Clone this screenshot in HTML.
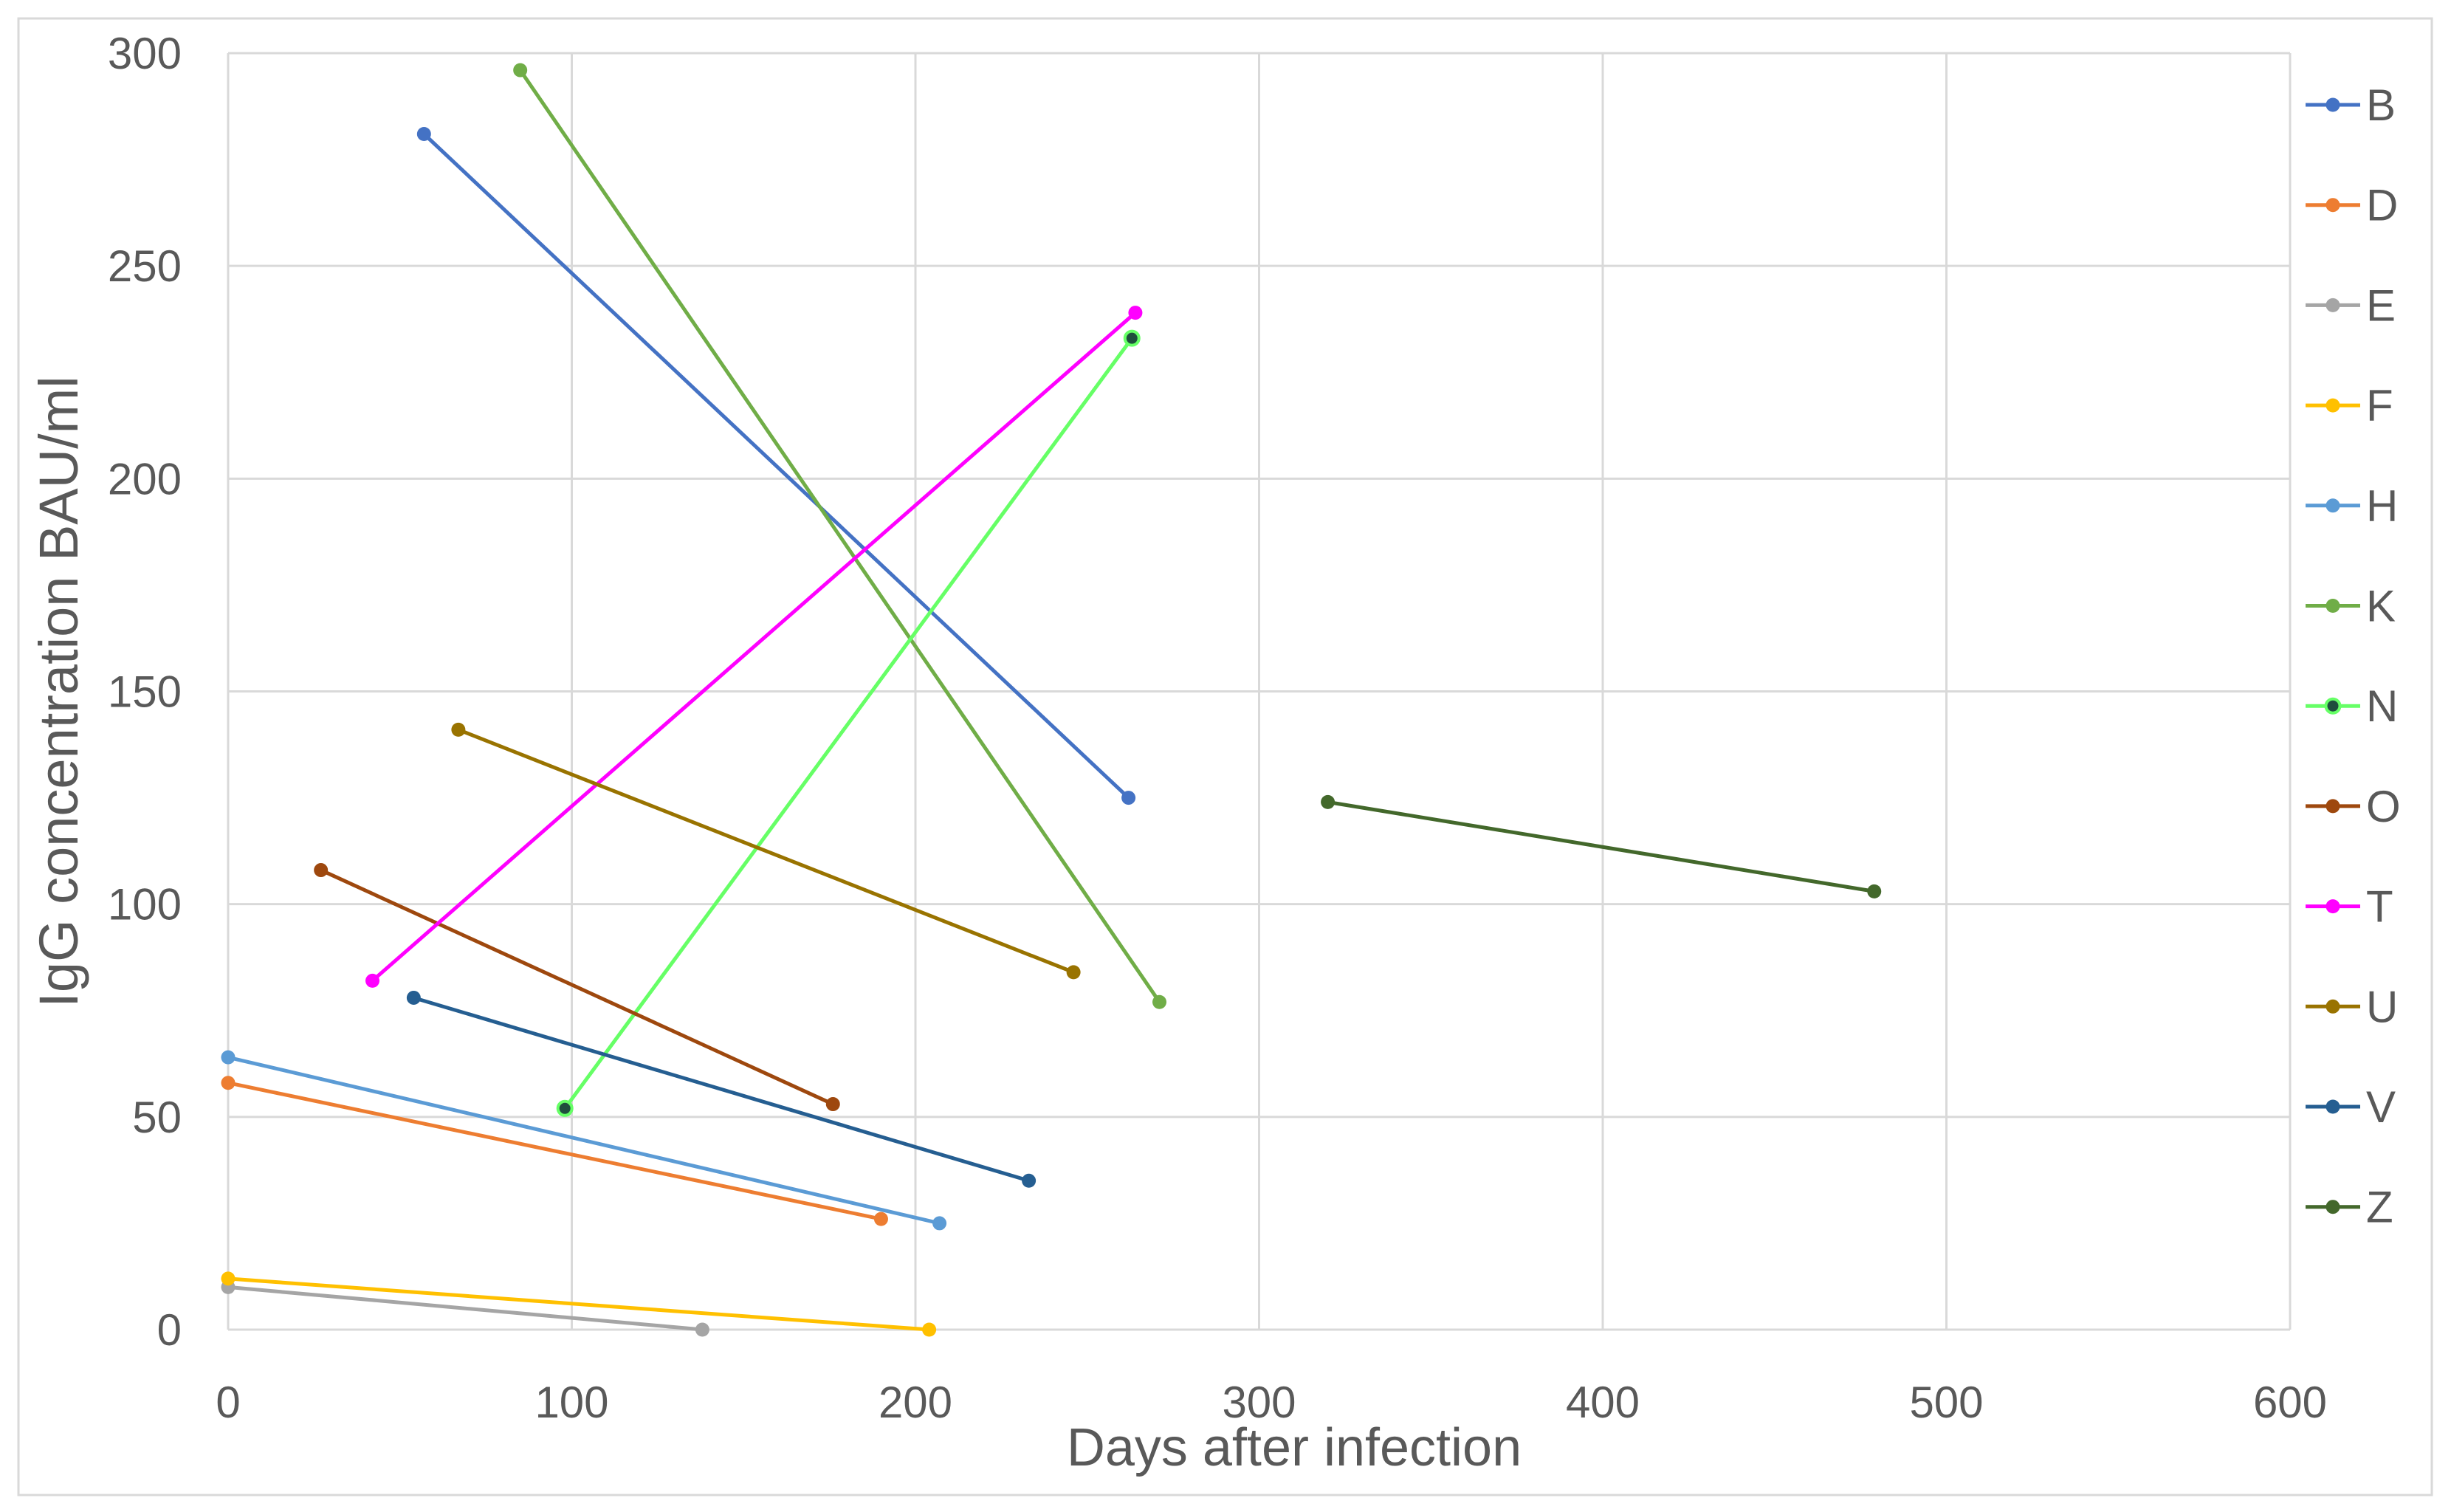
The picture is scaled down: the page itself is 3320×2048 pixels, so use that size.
<!DOCTYPE html>
<html><head><meta charset="utf-8"><style>
body{margin:0;background:#fff}
svg{display:block;font-family:"Liberation Sans",sans-serif}
</style></head><body>
<svg id="chart" width="3320" height="2048" viewBox="0 0 3320 2048" xmlns="http://www.w3.org/2000/svg">
<rect x="25" y="25" width="3269" height="2000" fill="#fff" stroke="#d9d9d9" stroke-width="3"/>
<g id="grid"></g><g id="series"></g><g id="legend"></g>
<text x="1753" y="1985" font-size="72" fill="#595959" text-anchor="middle">Days after infection</text>
<text transform="translate(105,937) rotate(-90)" font-size="74" fill="#595959" text-anchor="middle">IgG concentration BAU/ml</text>
</svg>
<script>
const names=["B","D","E","F","H","K","N","O","T","U","V","Z"];
const colors=["#4472C4","#ED7D31","#A5A5A5","#FFC000","#5B9BD5","#70AD47","#66FF66","#9E480E","#FF00FF","#997300","#255E91","#43682B"];
const startDays=[57,0,0,0,0,85,98,27,42,67,54,320];
const startVals=[281,58,10,12,64,296,52,108,82,141,78,124];
const endDays=[262,190,138,204,207,271,263,176,264,246,233,479];
const endVals=[125,26,0,0,25,77,233,53,239,84,35,103];
const xTicks=[0,100,200,300,400,500,600];
const yTicks=[0,50,100,150,200,250,300];
const NS="http://www.w3.org/2000/svg";
const X0=309,X1=3102,Y0=1801,Y1=72;
const sx=d=>X0+(X1-X0)*d/600, sy=v=>Y0-(Y0-Y1)*v/300;
function mk(t,a,p){const e=document.createElementNS(NS,t);for(const k in a)e.setAttribute(k,a[k]);p.appendChild(e);return e;}
const grid=document.getElementById('grid');
xTicks.forEach(t=>{
 const l=mk('line',{x1:sx(t),x2:sx(t),y1:Y1,y2:Y0,stroke:'#d9d9d9','stroke-width':3},grid);
 
 
 const tx=mk('text',{x:sx(t),y:1920,'font-size':60,fill:'#595959','text-anchor':'middle'},grid);tx.textContent=t;
 
 
});
yTicks.forEach(t=>{
 const l=mk('line',{x1:X0,x2:X1,y1:sy(t),y2:sy(t),stroke:'#d9d9d9','stroke-width':3},grid);
 
 
 const tx=mk('text',{x:246,y:sy(t)+21,'font-size':60,fill:'#595959','text-anchor':'end'},grid);tx.textContent=t;
 
 
});
const ser=document.getElementById('series'),leg=document.getElementById('legend');
names.forEach((n,i)=>{
 const g=mk('g',{},ser);
 
 
 mk('line',{x1:sx(startDays[i]),y1:sy(startVals[i]),x2:sx(endDays[i]),y2:sy(endVals[i]),stroke:colors[i],'stroke-width':5},g);
 const inner=n==='N'?'#1f4e3d':colors[i];
 [[startDays[i],startVals[i]],[endDays[i],endVals[i]]].forEach(p=>{
  const c=mk('circle',{cx:sx(p[0]),cy:sy(p[1]),r:9.5,fill:inner,stroke:colors[i],'stroke-width':n==='N'?4:0},g);
  
  
 });
 const y=142+i*135.7;
 const lg=mk('g',{},leg);
 
 
 mk('line',{x1:3123,x2:3197,y1:y,y2:y,stroke:colors[i],'stroke-width':5},lg);
 mk('circle',{cx:3160,cy:y,r:9.5,fill:inner,stroke:colors[i],'stroke-width':n==='N'?4:0},lg);
 const t=mk('text',{x:3205,y:y+21,'font-size':60,fill:'#595959'},lg);t.textContent=n;
});
</script>
</body></html>
